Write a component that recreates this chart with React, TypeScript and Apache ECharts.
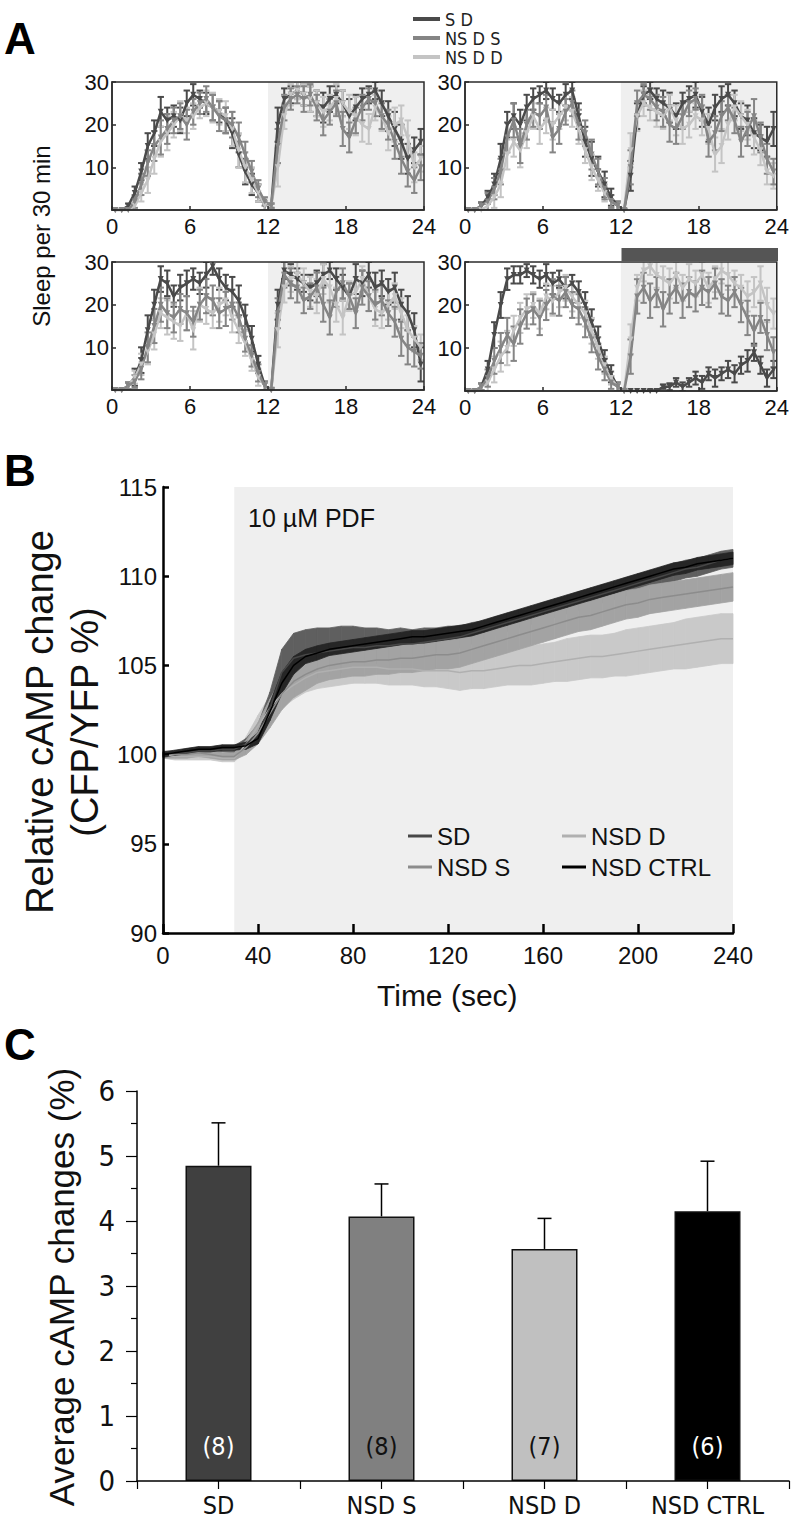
import React, { useEffect, useRef } from "react";
import * as echarts from "echarts";

const NARROW = "'Liberation Sans Narrow', 'Arial Narrow', 'DejaVu Sans Condensed', 'Liberation Sans', Arial, sans-serif";
const SANS = "'Liberation Sans', Arial, Helvetica, sans-serif";

// ---------- Panel A : sleep per 30 min ----------
const HOURS = [0.25,0.75,1.25,1.75,2.25,2.75,3.25,3.75,4.25,4.75,5.25,5.75,6.25,6.75,7.25,7.75,8.25,8.75,9.25,9.75,10.25,10.75,11.25,11.75,12.25,12.75,13.25,13.75,14.25,14.75,15.25,15.75,16.25,16.75,17.25,17.75,18.25,18.75,19.25,19.75,20.25,20.75,21.25,21.75,22.25,22.75,23.25,23.75];
const HOUR_TICKS = [0, 24];
const NIGHT = [12, 24];
const DEPRIVATION = [12, 24];
const A_NAMES = ["S D", "NS D S", "NS D D"];

const TL_SD = [0,0,1,4,9,15,18,23,21,22,21,25,27,26,25,24,23,21,18,13,9,6,4,1, 1,20,26,27,28,27,26,25,24,26,27,25,22,24,26,27,28,25,22,19,16,12,14,16];
const TL_NSDS = [0,0,0,2,6,11,15,17,19,21,22,20,23,25,26,24,22,21,20,17,13,9,5,2, 1,15,24,26,27,26,27,24,21,23,25,19,17,21,24,26,25,22,20,16,12,9,7,10];
const TL_NSDD = [0,0,0,1,4,7,12,16,18,20,22,21,22,24,25,24,23,22,19,14,10,7,4,1, 1,10,22,27,28,27,26,25,23,24,26,25,23,22,20,19,24,22,18,20,21,17,10,12];
const TR_SD = [0,0,1,3,6,12,20,22,20,24,26,27,28,26,25,27,28,22,16,12,9,6,3,1, 0,8,22,27,28,26,25,24,22,25,26,27,23,20,24,26,27,25,22,21,18,17,16,19];
const TR_NSDS = [0,0,1,2,5,9,17,21,15,20,23,22,24,17,19,23,25,20,18,13,9,5,2,1, 0,10,25,27,26,24,23,20,19,22,25,26,24,16,18,22,24,21,16,19,22,17,12,9];
const TR_NSDD = [0,0,0,1,3,6,13,16,14,18,22,19,21,20,22,24,23,19,14,10,7,4,2,1, 0,14,22,25,24,23,22,24,21,19,20,22,21,19,13,15,20,24,22,20,17,14,9,8];
const BL_SD = [0,0,1,3,7,14,20,26,25,22,24,25,26,25,27,29,26,24,23,21,17,12,6,1, 0,20,28,27,26,25,24,25,27,28,26,24,22,26,25,27,24,25,23,24,20,18,14,6];
const BL_NSDS = [0,0,1,2,5,10,15,20,18,17,19,18,16,20,22,21,18,19,20,17,12,8,4,1, 0,18,27,25,24,21,22,24,20,17,23,25,22,18,24,22,20,21,18,16,12,10,9,8];
const BL_NSDD = [0,0,1,3,6,9,13,18,17,16,15,18,14,20,19,18,20,21,17,14,11,7,3,1, 0,14,24,26,27,25,23,22,26,24,20,17,22,23,26,22,19,18,20,22,18,14,12,10];
const BR_SD = [0,0,1,5,13,20,26,27,27,28,27,26,27,25,26,24,25,23,20,16,12,7,4,1, 0,0,0,0,0,0,1,1,2,1,2,3,2,4,3,4,5,4,6,7,9,6,3,5];
const BR_NSDS = [0,0,1,3,7,10,13,11,15,18,19,17,20,22,21,23,20,19,16,12,8,5,2,1, 0,8,22,24,21,23,19,22,24,21,23,22,24,23,25,22,21,23,20,17,14,17,13,9];
const BR_NSDD = [0,0,1,2,5,8,10,14,17,19,20,18,22,21,23,24,22,20,18,14,10,6,3,1, 0,12,24,28,29,27,26,25,27,24,26,25,27,24,26,28,27,25,24,22,23,25,20,18];

const E_TL_SD = [0,0,0.5,1.5,2,3,3,3.5,3,2.5,3,3,2.5,2,2.5,3,2.5,3,3.5,3,3,2.5,2,1, 0.5,4,2.5,2,2,2.5,3,3,3.5,3,2,3,4,3,2.5,2,2,3,3.5,4,4,3.5,3,3];
const E_TL_NSDS = [0,0,0.5,1.5,2.5,3,3.5,4,3.5,3,3,3.5,3,2.5,3,3,3.5,3,3,3.5,3,2.5,2,1, 0.5,4,3,2.5,2,3,2.5,3,3.5,3,3,4,3.5,3,3,2.5,3,3,3.5,4,3.5,3.5,3,3];
const E_TL_NSDD = [0,0,0.3,1,2,3,3.5,3.5,4,3,3.5,3,3,2.5,3,3.5,3,3.5,4,4,3.5,3,2,1, 0.5,4.5,3,2.5,2,2.5,3,3,3.5,3,3.5,3,4,4.5,4,3.5,3,3.5,4,4,3.5,4,3.5,3];
const E_TR_SD = [0,0.3,0.8,1.5,2.5,3.5,3,3,3.5,3,2.5,2,2,2.5,2,2.5,2,3,3.5,4,3.5,3,2,1, 0.3,3.5,3,2,2,2.5,3,3.5,3,2.5,3,3,3.5,4,3,3,2.5,3,3,3.5,3.5,3,3.5,4];
const E_TR_NSDS = [0,0.3,0.8,2,2.5,3,3.5,4,4,3.5,3.5,3,3,3.5,3.5,3,3,3.5,3,3.5,3,2.5,1.5,1, 0.3,4,3,2.5,2.5,3,3.5,4,3.5,3,3,2.5,3,3.5,4,3.5,3,3,3.5,4,4,3.5,3.5,3];
const E_TR_NSDD = [0,0.2,0.5,1.5,2.5,3,3.5,3.5,4,3.5,3,3.5,3,3.5,3,3,3.5,3.5,3,3,2.5,2,1.5,1, 0.3,4,3.5,3,3,3.5,3,3,3.5,3.5,3,3,3.5,3.5,4,4,3.5,3,3.5,3.5,4,3.5,3,3];
const E_BL_SD = [0,0.3,0.8,2,3,3.5,3.5,3,3,2.5,3,3,2.5,2.5,3,2,2.5,3,3.5,3.5,3,3,2,1, 0.5,3.5,2,2.5,2.5,2,3,3,2.5,2,2.5,3,3,3.5,3,3,3.5,3,3,3.5,3.5,4,4,4];
const E_BL_NSDS = [0,0.3,0.8,1.5,2.5,3.5,4,4,3.5,3.5,3.5,4,3.5,3.5,4,3.5,3.5,4,3.5,3.5,3,2.5,2,1, 0.5,3.5,3,3.5,3.5,3,3,3.5,4,4,3.5,3.5,3,3.5,4,3.5,3.5,3.5,3,3.5,4,4,3.5,3];
const E_BL_NSDD = [0,0.3,0.8,1.5,2.5,3,3.5,3.5,4,4,3.5,4,4.5,4,3.5,3.5,4,3.5,3.5,3,3,2.5,2,1, 0.5,4,3.5,3,3,3.5,3.5,4,3.5,3.5,4,4,3.5,3.5,3,3.5,4,3.5,3.5,3,3.5,3.5,3,3];
const E_BR_SD = [0,0.3,0.8,2,3,3,2.5,2,2,1.5,2,2,2.5,2.5,2,2.5,2,2.5,3,3,3,2.5,2,1, 0,0,0,0,0.3,0.3,0.5,0.8,1,1,1,1.5,1.5,1.5,2,1.5,2,2,2,2.5,2,2,2,2];
const E_BR_NSDS = [0,0.3,0.8,2,3,3.5,4,4,4,3.5,3.5,4,3.5,4,3.5,3.5,3,3.5,3.5,3,3,2.5,1.5,1, 0.5,4,4,3.5,4,3.5,4,4,3.5,4,3.5,3.5,4,3.5,3.5,4,3.5,3.5,4,4,3.5,3.5,3.5,3.5];
const E_BR_NSDD = [0,0.3,0.8,2,3,3.5,4,3.5,3.5,3.5,3,3.5,3,3.5,3.5,3,3.5,3,3,3,2.5,2,1.5,1, 0.5,3.5,3,2.5,2,3,3,3.5,3,3,3.5,3,3,3.5,3,3,3.5,3,3,3.5,3.5,4,4,3.5];

// ---------- Panel B : cAMP imaging (t = 0..240 s every 5 s) ----------
const TIME = [0,5,10,15,20,25,30, 35,40,45,50,55,60,65,70,75,80, 85,90,95,100,105,110,115,120,125,130, 135,140,145,150,155,160,165,170,175,180, 185,190,195,200,205,210,215,220,225,230,235,240];
const PDF_WINDOW = [30, 240];
const B_SD = [100.0,100.1,100.1,100.2,100.2,100.3,100.3, 100.6,101.2,102.6,104.6,105.4,105.6,105.7,105.8,105.9,106.0, 106.0,106.1,106.1,106.2,106.2,106.3,106.4,106.5,106.6,106.8, 107.0,107.2,107.4,107.6,107.8,108.0,108.2,108.4,108.6,108.8, 109.0,109.2,109.4,109.6,109.8,110.0,110.2,110.4,110.5,110.7,110.9,111.0];
const B_SD_SEM = [0.1,0.1,0.1,0.15,0.15,0.15,0.2, 0.3,0.5,0.9,1.3,1.4,1.4,1.4,1.3,1.3,1.2, 1.1,1.0,0.9,0.9,0.8,0.8,0.7,0.7,0.6,0.6, 0.5,0.5,0.5,0.5,0.5,0.5,0.5,0.5,0.5,0.5, 0.5,0.5,0.5,0.5,0.5,0.5,0.5,0.5,0.5,0.5,0.5,0.5];
const B_CTRL = [100.0,100.1,100.2,100.3,100.3,100.4,100.4, 100.5,100.9,102.4,104.0,105.0,105.5,105.7,105.9,106.0,106.1, 106.2,106.3,106.4,106.5,106.6,106.6,106.7,106.8,106.9,107.0, 107.2,107.4,107.6,107.8,108.0,108.2,108.4,108.6,108.8,109.0, 109.2,109.4,109.6,109.8,110.0,110.2,110.4,110.5,110.7,110.8,110.9,111.0];
const B_CTRL_SEM = [0.15,0.15,0.15,0.15,0.15,0.15,0.15, 0.2,0.3,0.5,0.6,0.5,0.4,0.4,0.35,0.35,0.35, 0.35,0.35,0.35,0.35,0.35,0.35,0.35,0.35,0.35,0.35, 0.35,0.35,0.35,0.35,0.35,0.35,0.35,0.35,0.35,0.35, 0.35,0.35,0.35,0.35,0.35,0.35,0.35,0.35,0.35,0.35,0.35,0.35];
const B_NSDS = [100.0,100.0,100.0,100.1,100.0,99.9,99.9, 100.4,101.2,102.3,103.4,104.1,104.5,104.8,105.0,105.1,105.2, 105.2,105.3,105.3,105.4,105.4,105.5,105.6,105.6,105.7,105.9, 106.1,106.3,106.5,106.7,106.9,107.1,107.3,107.5,107.7,107.8, 108.0,108.2,108.4,108.5,108.7,108.8,108.9,109.0,109.1,109.2,109.3,109.4];
const B_NSDS_SEM = [0.2,0.2,0.2,0.2,0.2,0.2,0.2, 0.4,0.6,0.8,0.9,0.9,0.9,0.8,0.8,0.8,0.8, 0.8,0.8,0.8,0.8,0.8,0.8,0.8,0.8,0.8,0.8, 0.8,0.8,0.8,0.8,0.8,0.8,0.8,0.8,0.8,0.8, 0.8,0.8,0.8,0.8,0.8,0.8,0.8,0.8,0.8,0.8,0.8,0.8];
const B_NSDD = [100.0,99.9,99.9,99.9,99.9,99.8,99.8, 100.6,101.6,102.6,103.4,103.9,104.3,104.6,104.7,104.8,104.9, 104.9,104.9,104.8,104.8,104.8,104.7,104.7,104.7,104.6,104.7, 104.7,104.8,104.9,105.0,105.0,105.1,105.2,105.3,105.4,105.5, 105.5,105.6,105.7,105.8,105.9,106.0,106.1,106.2,106.3,106.4,106.5,106.5];
const B_NSDD_SEM = [0.2,0.2,0.2,0.2,0.2,0.2,0.2, 0.4,0.6,0.7,0.8,0.8,0.8,0.9,0.9,0.9,0.9, 0.9,0.9,0.9,0.9,0.9,0.9,0.9,1.0,1.0,1.0, 1.0,1.0,1.0,1.1,1.1,1.1,1.1,1.2,1.2,1.2, 1.2,1.2,1.3,1.3,1.3,1.3,1.3,1.4,1.4,1.4,1.4,1.4];

// ---------- Panel C : average cAMP changes ----------
const CATS = ["SD", "NSD S", "NSD D", "NSD CTRL"];
const CAMP_MEAN = [4.85, 4.07, 3.57, 4.15];
const CAMP_SEM = [0.66, 0.5, 0.47, 0.77];
const N_CELLS = [8, 8, 7, 6];
const BAR_COLORS = ["#404040", "#808080", "#c0c0c0", "#000000"];
const BAR_LABEL_COLORS = ["#ffffff", "#111111", "#111111", "#ffffff"];

const A_COLORS = ["#4a4a4a", "#858585", "#c4c4c4"];

function pairs(xs: number[], ys: number[]) {
  return xs.map((x, i) => [x, ys[i]]);
}

function errSeries(xs: number[], ys: number[], es: number[], color: string, idx: number) {
  return {
    type: "custom",
    xAxisIndex: idx,
    yAxisIndex: idx,
    clip: true,
    silent: true,
    z: 3,
    itemStyle: { color },
    encode: { x: 0, y: 1 },
    data: xs.map((x, i) => [x, ys[i], es[i]]),
    renderItem: (_p: any, api: any) => {
      const x = api.value(0);
      const y = api.value(1);
      const e = api.value(2);
      const top = api.coord([x, y + e]);
      const bot = api.coord([x, Math.max(0, y - e)]);
      const hw = 3.2;
      const st = { stroke: color, lineWidth: 2 };
      return {
        type: "group",
        children: [
          { type: "line", shape: { x1: top[0], y1: top[1], x2: bot[0], y2: bot[1] }, style: st },
          { type: "line", shape: { x1: top[0] - hw, y1: top[1], x2: top[0] + hw, y2: top[1] }, style: st },
          { type: "line", shape: { x1: bot[0] - hw, y1: bot[1], x2: bot[0] + hw, y2: bot[1] }, style: st },
        ],
      };
    },
  };
}

// SEM band drawn as one quadrilateral per time step, through the axes' scales
function bandSeries(ts: number[], mean: number[], sem: number[], fill: string, idx: number) {
  const data: number[][] = [];
  for (let i = 0; i < ts.length - 1; i++) {
    data.push([ts[i], mean[i] - sem[i], mean[i] + sem[i], ts[i + 1], mean[i + 1] - sem[i + 1], mean[i + 1] + sem[i + 1]]);
  }
  return {
    type: "custom",
    xAxisIndex: idx,
    yAxisIndex: idx,
    silent: true,
    z: 2,
    encode: { x: [0, 3], y: [1, 2, 4, 5] },
    data,
    renderItem: (_p: any, api: any) => {
      const a = api.coord([api.value(0), api.value(1)]);
      const b = api.coord([api.value(3), api.value(4)]);
      const c = api.coord([api.value(3), api.value(5)]);
      const d = api.coord([api.value(0), api.value(2)]);
      return {
        type: "polygon",
        shape: { points: [a, b, c, d] },
        style: { fill, stroke: fill, lineWidth: 0.8 },
      };
    },
  };
}

export default function App() {
  const ref = useRef<HTMLDivElement>(null);

  useEffect(() => {
    document.body.style.margin = "0";
    const chart = echarts.init(ref.current!, null, { renderer: "svg" });

    const panelsA = [
      { vals: [TL_SD, TL_NSDS, TL_NSDD], errs: [E_TL_SD, E_TL_NSDS, E_TL_NSDD] },
      { vals: [TR_SD, TR_NSDS, TR_NSDD], errs: [E_TR_SD, E_TR_NSDS, E_TR_NSDD] },
      { vals: [BL_SD, BL_NSDS, BL_NSDD], errs: [E_BL_SD, E_BL_NSDS, E_BL_NSDD] },
      { vals: [BR_SD, BR_NSDS, BR_NSDD], errs: [E_BR_SD, E_BR_NSDS, E_BR_NSDD] },
    ];

    const gridsA = [
      { left: 112, top: 82, width: 312, height: 128 },
      { left: 465, top: 82, width: 313, height: 128 },
      { left: 112, top: 262, width: 312, height: 128 },
      { left: 465, top: 262, width: 313, height: 129 },
    ].map((g) => ({ ...g, show: true, borderColor: "#2b2b2b", borderWidth: 1.5, backgroundColor: "transparent", z: 10 }));

    const xA = gridsA.map((_g, i) => ({
      type: "value", gridIndex: i, min: HOUR_TICKS[0], max: HOUR_TICKS[1], interval: 6, z: 6,
      axisLine: { show: true, lineStyle: { color: "#2b2b2b", width: 1.5 } },
      axisTick: { show: true, inside: true, length: 4, lineStyle: { color: "#2b2b2b", width: 1.5 } },
      axisLabel: { fontSize: 22, fontFamily: SANS, color: "#111", margin: 5 },
      splitLine: { show: false },
    }));
    const yA = gridsA.map((_g, i) => ({
      type: "value", gridIndex: i, min: 0, max: 30, interval: 10, z: 6,
      axisLine: { show: true, lineStyle: { color: "#2b2b2b", width: 1.5 } },
      axisTick: { show: true, inside: true, length: 4, lineStyle: { color: "#2b2b2b", width: 1.5 } },
      axisLabel: { fontSize: 22, fontFamily: SANS, color: "#111", margin: 3, formatter: (v: number) => (v === 0 ? "" : String(v)) },
      splitLine: { show: false },
    }));

    const seriesA: any[] = [];
    panelsA.forEach((p, g) => {
      seriesA.push({
        type: "line", xAxisIndex: g, yAxisIndex: g, data: [[NIGHT[0], 0]], showSymbol: false, silent: true,
        lineStyle: { width: 0, opacity: 0 }, z: 1,
        markArea: { silent: true, itemStyle: { color: "#efefef" }, data: [[{ xAxis: NIGHT[0] }, { xAxis: NIGHT[1] }]] },
      });
      [0, 2, 1].forEach((k) => {
        seriesA.push(errSeries(HOURS, p.vals[k], p.errs[k], A_COLORS[k], g));
        seriesA.push({
          type: "line", name: A_NAMES[k], xAxisIndex: g, yAxisIndex: g, data: pairs(HOURS, p.vals[k]),
          symbol: "triangle", symbolRotate: 180, symbolSize: 6, silent: true, z: 4,
          lineStyle: { color: A_COLORS[k], width: 2.5 }, itemStyle: { color: A_COLORS[k] },
        });
      });
    });

    // strip grid for the deprivation bar (index 4)
    const stripGrid = { left: 465, top: 248, width: 313, height: 13, show: false };
    const stripX = { type: "value", gridIndex: 4, min: HOUR_TICKS[0], max: HOUR_TICKS[1], show: false };
    const stripY = { type: "value", gridIndex: 4, min: 0, max: 1, show: false };
    const stripSeries = {
      type: "line", xAxisIndex: 4, yAxisIndex: 4, data: [[DEPRIVATION[0], 0]], showSymbol: false, silent: true,
      lineStyle: { width: 0, opacity: 0 },
      markArea: { silent: true, itemStyle: { color: "#555555" }, data: [[{ xAxis: DEPRIVATION[0] }, { xAxis: DEPRIVATION[1] }]] },
    };

    // Panel B (grid index 5)
    const gridB = { left: 163, top: 487, width: 570, height: 446, show: false };
    const xB = {
      type: "value", gridIndex: 5, min: 0, max: 240, interval: 40, z: 6,
      axisLine: { show: true, lineStyle: { color: "#000", width: 2.5 } },
      axisTick: { show: true, inside: true, length: 9, lineStyle: { color: "#000", width: 2.5 } },
      axisLabel: { fontSize: 24, fontFamily: SANS, color: "#111", margin: 10 },
      splitLine: { show: false },
    };
    const yB = {
      type: "value", gridIndex: 5, min: 90, max: 115, interval: 5, z: 6,
      axisLine: { show: true, lineStyle: { color: "#000", width: 2.5 } },
      axisTick: { show: true, inside: true, length: 6, lineStyle: { color: "#000", width: 2.5 } },
      axisLabel: { fontSize: 24, fontFamily: SANS, color: "#111", margin: 6 },
      splitLine: { show: false },
    };
    const groupsB = [
      { name: "NSD D", mean: B_NSDD, sem: B_NSDD_SEM, band: "#c9c9c9", line: "#b0b0b0" },
      { name: "SD", mean: B_SD, sem: B_SD_SEM, band: "#5f5f5f", line: "#474747" },
      { name: "NSD S", mean: B_NSDS, sem: B_NSDS_SEM, band: "#a3a3a3", line: "#8c8c8c" },
      { name: "NSD CTRL", mean: B_CTRL, sem: B_CTRL_SEM, band: "#262626", line: "#000000" },
    ];
    const seriesB: any[] = [
      {
        type: "line", xAxisIndex: 5, yAxisIndex: 5, data: [[PDF_WINDOW[0], 100]], showSymbol: false, silent: true,
        lineStyle: { width: 0, opacity: 0 },
        markArea: { silent: true, itemStyle: { color: "#efefef" }, data: [[{ xAxis: PDF_WINDOW[0] }, { xAxis: PDF_WINDOW[1] }]] },
      },
    ];
    groupsB.forEach((g) => {
      seriesB.push(bandSeries(TIME, g.mean, g.sem, g.band, 5));
    });
    groupsB.forEach((g) => {
      seriesB.push({
        type: "line", name: g.name, xAxisIndex: 5, yAxisIndex: 5, data: pairs(TIME, g.mean),
        showSymbol: false, silent: true, z: 3,
        lineStyle: { color: g.line, width: 1.5 }, itemStyle: { color: g.line },
      });
    });

    // Panel C (grid index 6)
    const gridC = { left: 137, top: 1091, width: 652, height: 390, show: false };
    const xC = {
      type: "category", gridIndex: 6, data: CATS, z: 6,
      axisLine: { show: true, lineStyle: { color: "#000", width: 1.5 } },
      axisTick: { show: true, length: 8, lineStyle: { color: "#000", width: 1.2 } },
      axisLabel: { fontSize: 25, fontFamily: NARROW, color: "#111", margin: 12 },
    };
    const xC2 = {
      type: "category", gridIndex: 6, data: CATS, position: "bottom", z: 6,
      axisLine: { show: false },
      axisTick: { show: true, alignWithLabel: true, length: 8, lineStyle: { color: "#000", width: 1.2 } },
      axisLabel: { show: false },
    };
    const yC = {
      type: "value", gridIndex: 6, min: 0, max: 6, interval: 1, z: 6,
      axisLine: { show: true, lineStyle: { color: "#000", width: 1.5 } },
      axisTick: { show: true, length: 11, lineStyle: { color: "#000", width: 1.2 } },
      minorTick: { show: true, splitNumber: 2, length: 6, lineStyle: { color: "#000", width: 1.2 } },
      axisLabel: { fontSize: 29, fontFamily: NARROW, color: "#111", margin: 22 },
      splitLine: { show: false },
      minorSplitLine: { show: false },
    };
    const seriesC: any[] = [
      {
        type: "custom", xAxisIndex: 6, yAxisIndex: 6, silent: true, z: 2,
        encode: { x: 0, y: 1 },
        data: CAMP_MEAN.map((v, i) => [i, v, CAMP_SEM[i]]),
        renderItem: (_p: any, api: any) => {
          const i = api.value(0);
          const v = api.value(1);
          const e = api.value(2);
          const b = api.coord([i, v]);
          const t = api.coord([i, v + e]);
          const st = { stroke: "#000", lineWidth: 1.5 };
          return {
            type: "group",
            children: [
              { type: "line", shape: { x1: b[0], y1: b[1], x2: t[0], y2: t[1] }, style: st },
              { type: "line", shape: { x1: t[0] - 7, y1: t[1], x2: t[0] + 7, y2: t[1] }, style: st },
            ],
          };
        },
      },
      {
        type: "bar", xAxisIndex: 6, yAxisIndex: 6, barWidth: 66, silent: true, z: 3,
        data: CAMP_MEAN.map((v, i) => ({
          value: v,
          itemStyle: { color: BAR_COLORS[i], borderColor: "#111", borderWidth: 1.5 },
          label: { color: BAR_LABEL_COLORS[i] },
        })),
        label: {
          show: true, position: "insideBottom", distance: 22, fontSize: 25, fontFamily: NARROW,
          formatter: (p: any) => "(" + N_CELLS[p.dataIndex] + ")",
        },
      },
    ];

    const panelLabel = (text: string, y: number) => ({
      type: "text", left: 4, top: y, z: 20,
      style: { text, fontSize: 44, fontWeight: "bold", fontFamily: SANS, fill: "#000" },
    });
    const rotText = (text: string, x: number, y: number, size: number) => ({
      type: "text", x, y, rotation: Math.PI / 2, z: 20,
      style: { text, fontSize: size, fontFamily: SANS, fill: "#111", align: "center", verticalAlign: "middle", textAlign: "center", textVerticalAlign: "middle" },
    });

    chart.setOption({
      animation: false,
      backgroundColor: "#ffffff",
      grid: [...gridsA, stripGrid, gridB, gridC],
      xAxis: [...xA, stripX, xB, xC, xC2],
      yAxis: [...yA, stripY, yB, yC],
      legend: [
        {
          left: 408, top: 5, orient: "vertical", itemGap: 1, itemWidth: 27, itemHeight: 4, icon: "rect",
          data: A_NAMES, selectedMode: false,
          textStyle: { fontSize: 18, fontFamily: NARROW, color: "#222", lineHeight: 18 },
        },
        {
          left: 403, top: 819, orient: "vertical", itemGap: 7, itemWidth: 24, itemHeight: 3, icon: "rect",
          data: ["SD", "NSD S"], selectedMode: false,
          textStyle: { fontSize: 24, fontFamily: SANS, color: "#111" },
        },
        {
          left: 557, top: 819, orient: "vertical", itemGap: 7, itemWidth: 24, itemHeight: 3, icon: "rect",
          data: ["NSD D", "NSD CTRL"], selectedMode: false,
          textStyle: { fontSize: 24, fontFamily: SANS, color: "#111" },
        },
      ],
      graphic: [
        panelLabel("A", 16),
        panelLabel("B", 448),
        panelLabel("C", 1022),
        rotText("Sleep per 30 min", 41, 236, 24),
        rotText("Relative cAMP change", 40, 722, 38),
        rotText("(CFP/YFP %)", 85, 722, 38),
        rotText("Average cAMP changes (%)", 61, 1287, 35),
        {
          type: "text", left: 248, top: 505, z: 20,
          style: { text: "10 µM PDF", fontSize: 25, fontFamily: SANS, fill: "#111" },
        },
        {
          type: "text", left: 377, top: 980, z: 20,
          style: { text: "Time (sec)", fontSize: 30, fontFamily: SANS, fill: "#111" },
        },
      ],
      series: [...seriesA, stripSeries, ...seriesB, ...seriesC],
    });

    return () => chart.dispose();
  }, []);

  return <div ref={ref} style={{ width: 792, height: 1524 }} />;
}
